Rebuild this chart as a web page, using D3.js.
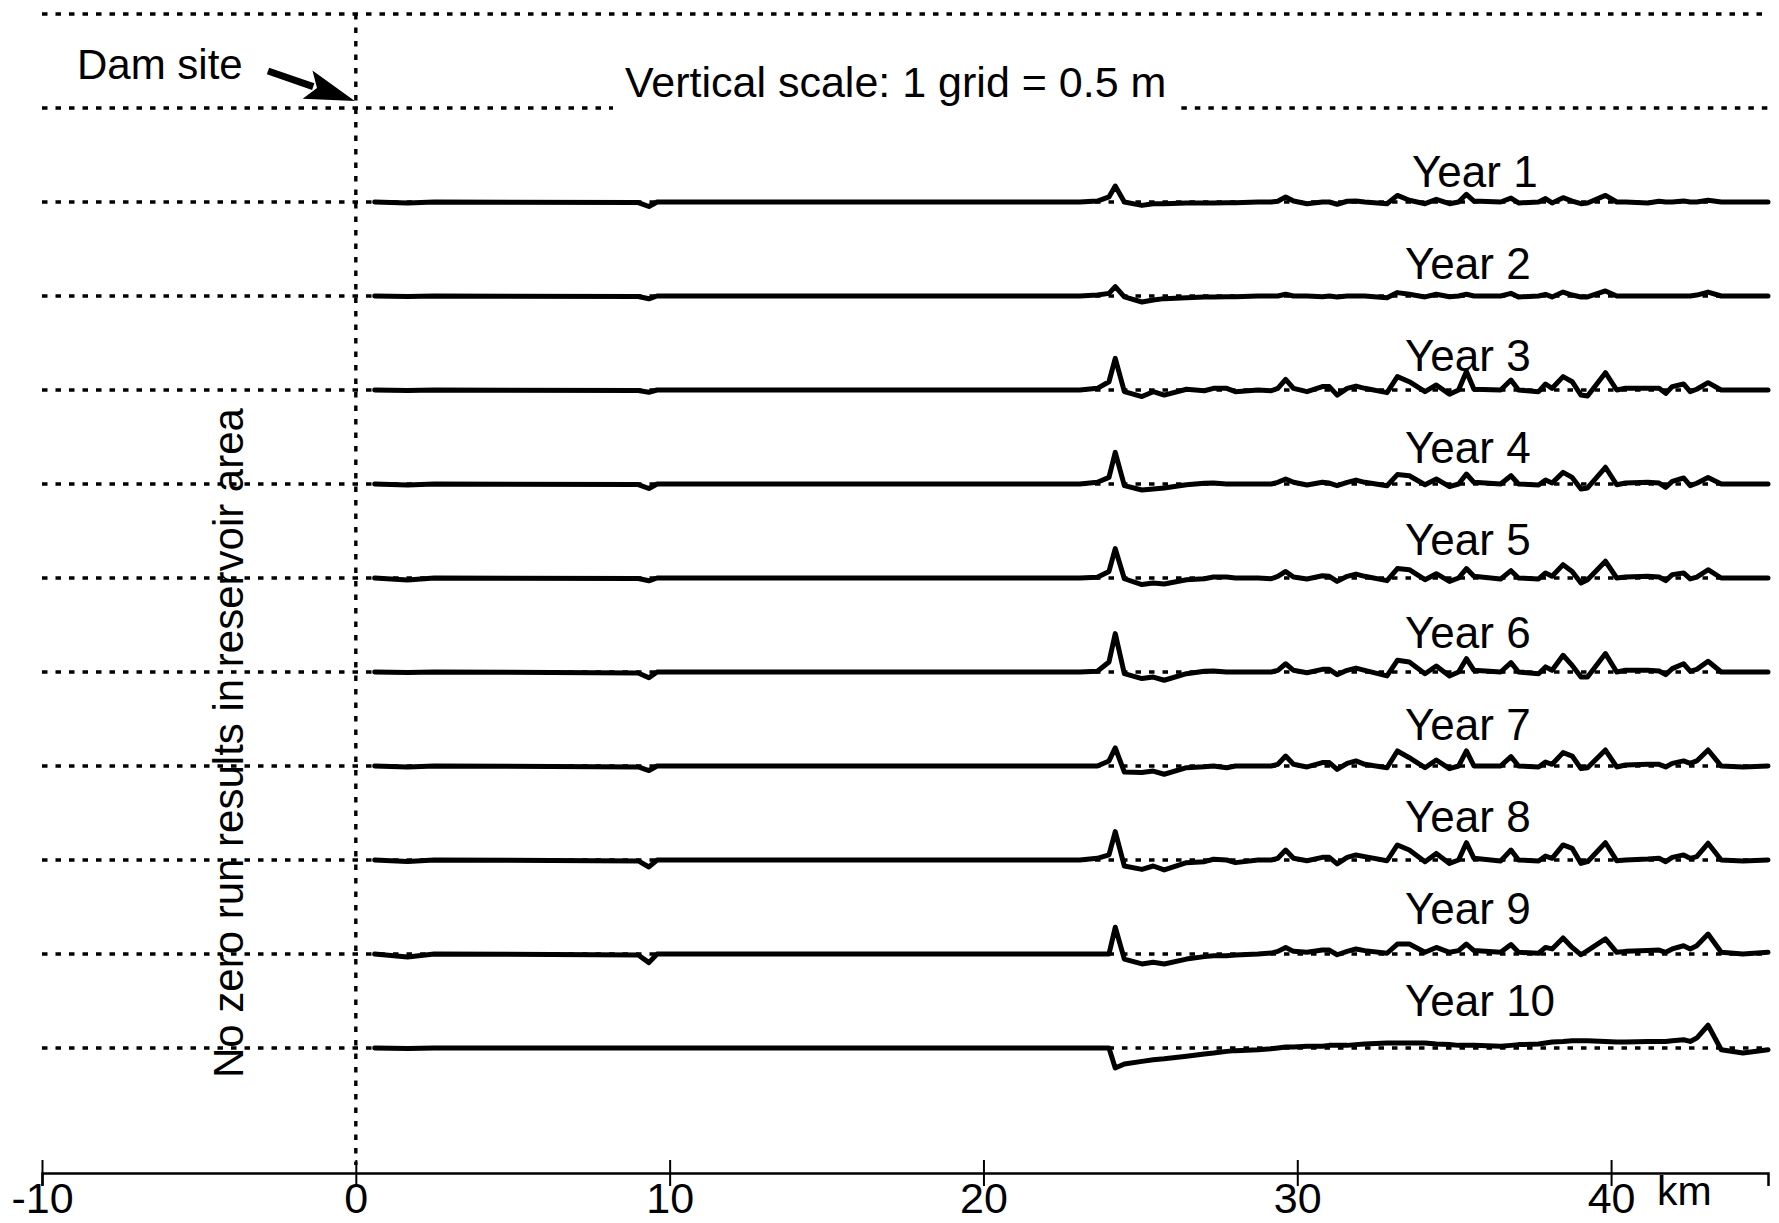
<!DOCTYPE html>
<html><head><meta charset="utf-8">
<script src="https://cdn.jsdelivr.net/npm/d3@7"></script>
<style>
body{margin:0;background:#fff}
text{font-family:"Liberation Sans",Arial,Helvetica,sans-serif;fill:#000}
</style>
</head><body>
<svg id="chart" width="1779" height="1223"></svg>
<script>
// ---- data ----
// cross-section locations (km from dam site)
const km = [0.6, 1.65, 2.5, 9.0, 9.34, 9.6, 23.07,
  23.63, 24.0, 24.2, 24.49, 25.05, 25.41, 25.76, 26.47, 27.04, 27.33,
  27.75, 28.03, 28.75, 29.17, 29.38, 29.63, 29.88, 30.31, 30.8, 31.02,
  31.27, 31.59, 31.87, 32.15, 32.86, 33.19, 33.57, 34.07, 34.43, 34.85,
  35.14, 35.39, 35.63, 36.48, 36.81, 37.05, 37.69, 37.91, 38.12, 38.47,
  38.76, 39.04, 39.25, 39.82, 40.18, 40.46, 41.17, 41.53, 41.74, 41.95,
  42.31, 42.52, 42.73, 43.09, 43.51, 44.2, 45.0];

const years = ["Year 1","Year 2","Year 3","Year 4","Year 5","Year 6","Year 7","Year 8","Year 9","Year 10"];

// bed level change relative to zero run (cm)
const year1 = [0,-0.5,0,-0.3,-2.4,0,0,
  0.5,2.7,8.5,0,-1.8,-0.9,-0.9,-0.5,-0.5,-0.5,
  -0.4,-0.4,0,0,0.4,2.7,0.5,-0.9,0,0,
  -1.2,0.4,0.5,0,-0.9,3.5,0.9,-0.9,1.4,-0.9,
  0,4.1,0.5,0,2.1,-0.5,0,1.8,-0.5,2.3,
  0.5,-0.9,-0.5,3.5,0,0,-0.5,0.4,0,0,
  0.5,0,0,0.9,0,0,0];
const year2 = [0,-0.3,0,-0.3,-1.5,0,0,
  0.5,1.4,5.0,-0.5,-3.2,-2.1,-1.4,-0.9,-0.5,-0.5,
  -0.4,-0.4,0,0,0,0.9,0,0,-0.4,0,
  -0.5,0,0,0,-0.9,1.8,0.9,-0.5,0.9,-0.4,
  0,0.9,0,0,1.4,-0.5,0,0.9,-0.5,2.1,
  0.5,-0.5,-0.5,2.7,0,0,0,0,0,0,
  0,0,0.5,2.1,0,0,0];
const year3 = [0,-0.3,0,-0.3,-1.2,0,0,
  0.9,4.4,16.8,-0.9,-3.5,-0.9,-2.7,0.4,-0.4,0.9,
  0.9,-0.9,0,-0.4,0.9,5.7,0.9,-0.9,1.8,1.8,
  -2.7,0.9,2.1,0.9,-1.4,7.1,4.4,-0.9,2.7,-2.3,
  0,9.8,0.4,0,5.3,0,-0.9,3.2,0.9,7.1,
  4.4,-2.7,-3.2,9.2,0,0.9,0.9,0.9,-1.8,1.8,
  3.2,-0.9,0.4,3.9,0,0,0];
const year4 = [0,-0.5,0,-0.3,-2.4,0,0,
  0.9,3.5,16.8,-0.9,-3.2,-2.7,-2.1,-0.4,0.4,0.5,
  0,0,0,0,0.9,2.7,0.9,-0.5,0.9,0.5,
  -0.9,0.9,2.1,0.9,-0.9,5.0,4.4,-0.4,2.7,-1.4,
  0,5.3,0.9,0,4.4,0,-0.5,2.1,0.5,6.2,
  3.5,-2.7,-2.1,8.9,-0.4,0.5,0.9,0.5,-1.8,1.4,
  3.2,-0.9,0.4,3.5,0,0,0];
const year5 = [0,-1.1,0,-0.3,-1.5,0,0,
  0.4,3.5,15.6,-0.4,-3.5,-2.7,-3.2,-0.9,-0.4,0.5,
  0.5,0,0,-0.4,0.9,3.5,0.5,-0.5,1.2,0.9,
  -1.8,0.9,2.1,0.9,-1.4,5.0,4.4,-0.9,2.3,-1.8,
  0,5.0,0.9,-0.5,3.9,0,-0.5,2.7,0.9,7.1,
  3.5,-2.7,-0.9,8.9,0,0.5,0.9,0.5,-1.4,1.8,
  2.7,-0.5,0.5,4.4,0,0,0];
const year6 = [0,-0.3,0,-0.5,-3.1,0,0,
  0.4,5.3,20.4,-0.9,-3.5,-2.7,-4.4,-0.9,0.4,0.5,
  0,0,0,0,0.9,4.4,0.9,-0.4,1.4,1.4,
  -1.4,0.9,2.1,0.9,-2.1,6.2,5.3,-0.9,3.2,-2.1,
  0,7.1,0.9,0,5.0,0,-0.9,2.7,0.9,8.9,
  3.5,-2.7,-2.7,9.8,0,0.9,0.9,0.5,-1.4,1.8,
  4.4,0.5,1.4,5.7,0,0,0];
const year7 = [0,-0.5,0,-0.5,-2.4,0,0,
  0,2.7,9.6,-3.2,-3.5,-2.7,-4.4,-0.9,-0.4,0,
  -0.9,0,0,0,0.9,5.3,0.9,-0.5,1.8,1.8,
  -1.8,1.4,2.7,0.9,-0.9,8.0,4.4,-0.9,3.2,-1.4,
  0,8.0,0,0,5.0,0,-0.5,2.1,0.9,7.1,
  5.3,-1.4,-0.9,8.5,-0.5,0.5,0.9,0.9,-0.5,1.4,
  2.7,1.4,2.7,8.5,0,-0.5,0];
const year8 = [0,-0.8,0,-0.5,-3.7,0,0,
  0.9,2.7,15.1,-3.2,-5.0,-3.2,-5.3,-1.4,-0.9,0.4,
  0,-1.4,0,0,0.9,5.3,0.9,-0.4,1.4,1.4,
  -2.1,1.4,2.7,1.8,-0.4,8.0,5.3,-0.9,3.5,-1.8,
  0,9.2,0.9,-0.5,5.3,0,-0.5,2.1,0.9,8.0,
  6.2,-1.8,-0.9,9.2,-0.4,0,0.5,0.9,-0.9,1.4,
  2.7,0.9,1.8,8.9,0,-0.5,0];
const year9 = [0,-1.6,0,-0.5,-4.6,0,0,
  0,0,14.2,-2.7,-5.3,-4.4,-5.3,-2.7,-1.4,-0.9,
  -0.9,-0.5,0,0.5,1.4,3.5,1.4,0.9,2.1,2.1,
  -0.4,1.4,2.7,1.8,0.4,5.3,5.3,0.9,3.5,0.9,
  1.8,5.3,1.8,0.9,5.0,0.9,0.4,3.5,2.7,8.5,
  3.5,-0.4,1.8,8.0,0.9,1.4,1.8,2.1,0.9,2.7,
  4.4,2.7,4.4,10.6,0.9,0,0.9];
const year10 = [0,-0.3,0,0,0,0,0,
  0,0,-10.6,-8.5,-7.1,-6.2,-5.7,-4.4,-3.2,-2.7,
  -1.8,-1.4,-0.9,-0.4,0,0.5,0.5,0.9,0.9,1.4,
  1.4,1.4,1.8,2.1,2.7,2.7,2.7,2.7,2.1,1.8,
  1.4,1.4,1.4,0.9,1.4,1.8,2.1,2.7,3.2,3.5,
  3.9,3.9,3.9,3.5,3.2,3.2,3.5,3.5,3.5,3.9,
  4.4,3.5,5.3,12.1,-0.9,-2.7,-0.9];
const series = [year1,year2,year3,year4,year5,year6,year7,year8,year9,year10];

const xTicks = [-10, 0, 10, 20, 30, 40];
const xDomain = [-10, 45];
const gridCm = 50;            // 1 grid = 0.5 m
const nGridLines = 12;

// ---- layout ----
const svg = d3.select("#chart");
svg.append("rect").attr("width",1779).attr("height",1223).attr("fill","#fff");

const x = d3.scaleLinear().domain(xDomain).range([42, 1768]);
const gridY = d3.scaleLinear().domain([0, nGridLines - 1]).range([14, 1048]);
const step = gridY(1) - gridY(0);
const bed = d3.scaleLinear().domain([0, gridCm]).range([0, -step]);
const axisY = 1173;
const FS = 42;

function dotted(sel){
  return sel.attr("stroke","#000").attr("stroke-width",3.4).attr("stroke-dasharray","5.5 8").attr("fill","none");
}

// vertical scale note
const note = svg.append("text").attr("x",625).attr("y",97).attr("font-size",43)
  .text("Vertical scale: 1 grid = 0.5 m");
const nb = note.node().getBBox();

// grid lines
const gridRows = d3.range(nGridLines);
gridRows.forEach(i => {
  const y = gridY(i);
  if (i === 1) {
    dotted(svg.append("line")).attr("x1",x(-10)).attr("x2",nb.x - 12).attr("y1",y).attr("y2",y);
    dotted(svg.append("line")).attr("x1",nb.x + nb.width + 15).attr("x2",x(45)).attr("y1",y).attr("y2",y);
  } else {
    dotted(svg.append("line")).attr("x1",x(-10)).attr("x2",x(45)).attr("y1",y).attr("y2",y);
  }
});

// dam site vertical line
dotted(svg.append("line")).attr("x1",x(0)).attr("x2",x(0)).attr("y1",gridY(0)).attr("y2",axisY - 8);

// profiles
const line = d3.line().x((d,i) => x(km[i])).y(d => d);
series.forEach((vals, j) => {
  const base = gridY(j + 2);
  svg.append("path")
    .attr("d", line(vals.map(v => base + bed(v))))
    .attr("fill","none").attr("stroke","#000").attr("stroke-width",5)
    .attr("stroke-linejoin","round").attr("stroke-linecap","round");
  svg.append("text").attr("x", j === 0 ? 1412 : 1405).attr("y", base - 15 - j*1.9)
    .attr("font-size",44).text(years[j]);
});

// Dam site label and arrow
svg.append("text").attr("x",77).attr("y",79).attr("font-size",FS).text("Dam site");
{
  const x0 = 268, y0 = 71, x1 = x(0) - 1, y1 = 101;
  const ang = Math.atan2(y1 - y0, x1 - x0);
  const hl = 50, hw = 15;
  const bx = x1 - hl*Math.cos(ang), by = y1 - hl*Math.sin(ang);
  svg.append("line").attr("x1",x0).attr("y1",y0).attr("x2",bx + 6*Math.cos(ang)).attr("y2",by + 6*Math.sin(ang))
    .attr("stroke","#000").attr("stroke-width",7);
  const px = -Math.sin(ang), py = Math.cos(ang);
  svg.append("path").attr("d",`M${x1},${y1}L${bx+hw*px},${by+hw*py}L${bx+10*Math.cos(ang)},${by+10*Math.sin(ang)}L${bx-hw*px},${by-hw*py}Z`)
    .attr("fill","#000");
}

// rotated note
svg.append("text").attr("transform","translate(243,1078) rotate(-90)")
  .attr("font-size",FS).text("No zero run results in reservoir area");

// axis
const axis = d3.axisBottom(x).tickValues(xTicks).tickSizeOuter(0).tickSize(13)
  .tickFormat(d => String(d));
const ag = svg.append("g").attr("transform",`translate(0,${axisY})`).call(axis);
ag.select(".domain").attr("stroke","#000").attr("stroke-width",2.5);
ag.selectAll(".tick line").attr("y1",-13).attr("y2",13).attr("stroke","#000").attr("stroke-width",2);
ag.selectAll(".tick text").attr("y",40).attr("dy",null).attr("font-size",43)
  .attr("font-family",'"Liberation Sans",Arial,sans-serif').attr("fill","#000");
svg.append("text").attr("x",1657).attr("y",1205).attr("font-size",41).text("km");
</script>
</body></html>
